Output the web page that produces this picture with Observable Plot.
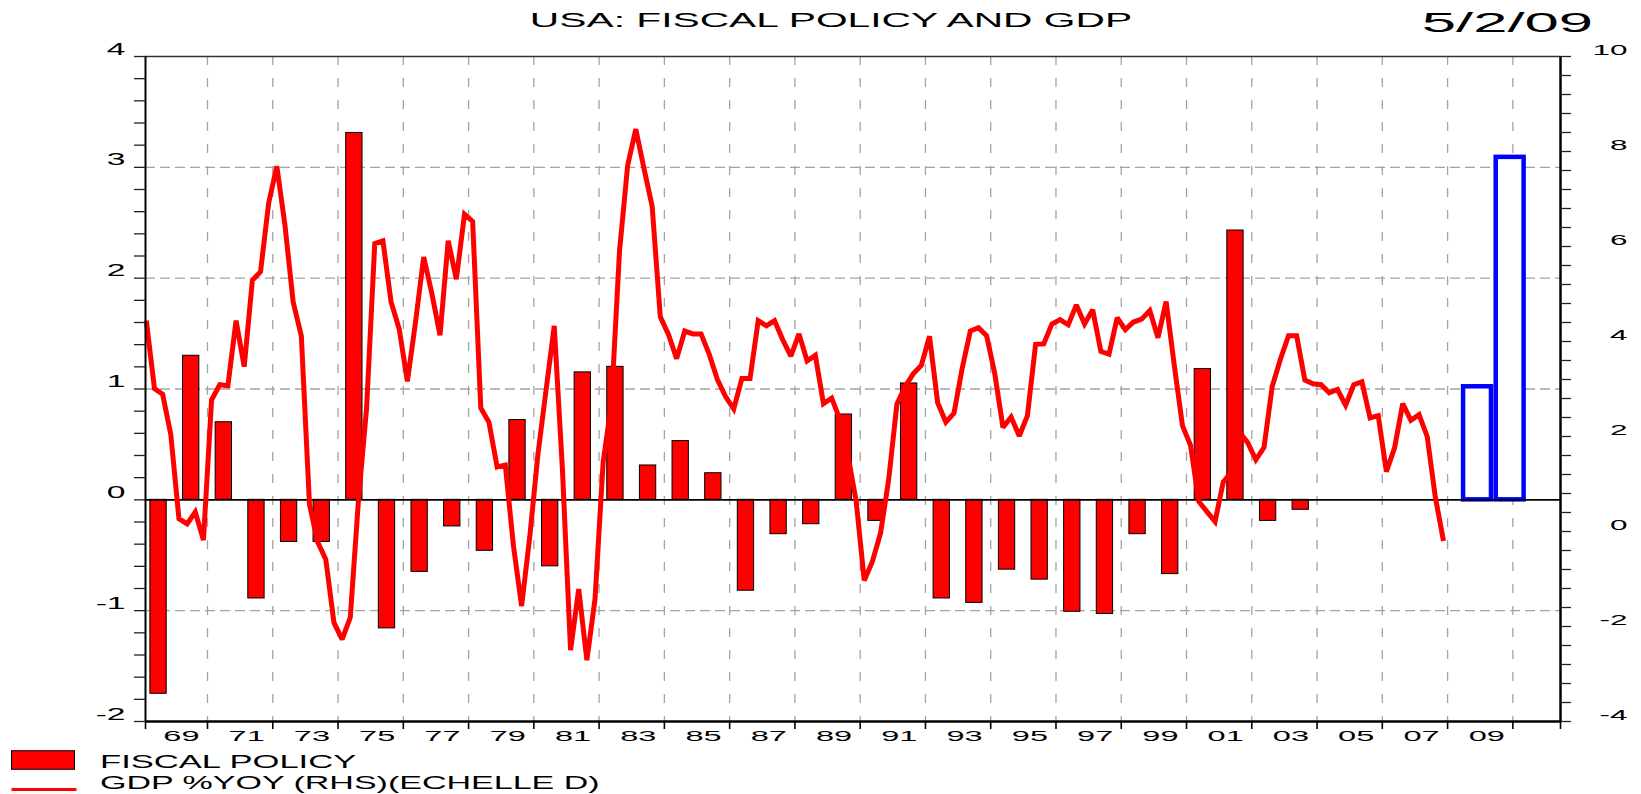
<!DOCTYPE html>
<html>
<head>
<meta charset="utf-8">
<script src="https://cdn.jsdelivr.net/npm/d3@7"></script>
<script src="https://cdn.jsdelivr.net/npm/@observablehq/plot@0.6"></script>
<style>
  html, body { margin: 0; padding: 0; background: #fff; overflow: hidden; }
  #chart svg { display: block; }
</style>
</head>
<body>
<div id="chart"></div>
<script>
// ---------------- texts ----------------
const chartTitle = "USA: FISCAL POLICY AND GDP";
const dateStamp = "5/2/09";
const legendBarsLabel = "FISCAL POLICY";
const legendLineLabel = "GDP %YOY (RHS)(ECHELLE D)";

// ---------------- fiscal policy (left axis, annual) ----------------
const fiscalYears = [1969, 1970, 1971, 1972, 1973, 1974, 1975, 1976, 1977, 1978,
                     1979, 1980, 1981, 1982, 1983, 1984, 1985, 1986, 1987, 1988,
                     1989, 1990, 1991, 1992, 1993, 1994, 1995, 1996, 1997, 1998,
                     1999, 2000, 2001, 2002, 2003, 2004];
const fiscalValues = [-1.75, 1.30, 0.70, -0.89, -0.38, -0.38, 3.31, -1.16, -0.65, -0.24,
                      -0.46, 0.72, -0.60, 1.15, 1.20, 0.31, 0.53, 0.24, -0.82, -0.31,
                      -0.22, 0.77, -0.19, 1.05, -0.89, -0.93, -0.63, -0.72, -1.01, -1.03,
                      -0.31, -0.67, 1.18, 2.43, -0.19, -0.09];

// ---------------- fiscal stimulus (left axis, hollow blue bars) ----------------
const stimulusYears = [2009, 2010];
const stimulusValues = [1.02, 3.09];

// ---------------- GDP % YoY (right axis, quarterly from 1969Q1) ----------------
const gdpFirstYear = 1969;
const gdpYoY = [
  4.44, 3.01, 2.89, 2.04,   // 1969
  0.27, 0.16, 0.41, -0.18,  // 1970
  2.77, 3.09, 3.07, 4.44,   // 1971
  3.47, 5.29, 5.47, 6.92,   // 1972
  7.69, 6.44, 4.83, 4.12,   // 1973
  0.57, -0.22, -0.59, -1.92,// 1974
  -2.27, -1.81, 0.65, 2.60, // 1975
  6.06, 6.12, 4.83, 4.26,   // 1976
  3.16, 4.41, 5.78, 5.01,   // 1977
  4.13, 6.12, 5.31, 6.68,   // 1978
  6.53, 2.60, 2.30, 1.36,   // 1979
  1.40, -0.30, -1.57, -0.11,// 1980
  1.62, 2.98, 4.33, 1.32,   // 1981
  -2.50, -1.21, -2.71, -1.42, // 1982
  1.47, 2.68, 5.90, 7.71,   // 1983
  8.47, 7.64, 6.85, 4.52,   // 1984
  4.15, 3.64, 4.22, 4.16,   // 1985
  4.16, 3.73, 3.20, 2.84,   // 1986
  2.58, 3.22, 3.22, 4.44,   // 1987
  4.33, 4.44, 4.04, 3.69,   // 1988
  4.16, 3.59, 3.71, 2.69,   // 1989
  2.81, 2.37, 1.60, 0.65,   // 1990
  -1.03, -0.63, -0.03, 1.10,// 1991
  2.68, 3.05, 3.32, 3.50,   // 1992
  4.11, 2.71, 2.30, 2.49,   // 1993
  3.43, 4.22, 4.29, 4.12,   // 1994
  3.32, 2.19, 2.41, 2.01,   // 1995
  2.44, 3.94, 3.95, 4.37,   // 1996
  4.46, 4.35, 4.77, 4.37,   // 1997
  4.67, 3.79, 3.73, 4.50,   // 1998
  4.25, 4.41, 4.47, 4.65,   // 1999
  4.08, 4.84, 3.50, 2.23,   // 2000
  1.81, 0.63, 0.42, 0.21,   // 2001
  1.04, 1.25, 2.09, 1.87,   // 2002
  1.51, 1.77, 3.05, 3.62,   // 2003
  4.12, 4.12, 3.19, 3.11,   // 2004
  3.09, 2.92, 2.99, 2.66,   // 2005
  3.09, 3.15, 2.39, 2.44,   // 2006
  1.26, 1.76, 2.69, 2.34,   // 2007
  2.46, 2.00, 0.72, -0.20   // 2008
];

// ---------------- axes ----------------
const leftTickLabels = [4, 3, 2, 1, 0, -1, -2];
const rightTickLabels = [10, 8, 6, 4, 2, 0, -2, -4];
const xLabelYears = [1969, 1971, 1973, 1975, 1977, 1979, 1981, 1983, 1985, 1987, 1989,
                     1991, 1993, 1995, 1997, 1999, 2001, 2003, 2005, 2007, 2009];
const gridYears = [1971, 1973, 1975, 1977, 1979, 1981, 1983, 1985, 1987, 1989, 1991,
                   1993, 1995, 1997, 1999, 2001, 2003, 2005, 2007, 2009, 2011];
const leftGrid = [3, 2, 1, -1];

const leftDomain = [-2, 4];
const rightDomain = [-4, 10];
const xDomain = [1969.1, 2012.46];

// right axis values expressed in left-axis units
const toLeft = v => leftDomain[0] + (v - rightDomain[0]) * (leftDomain[1] - leftDomain[0]) / (rightDomain[1] - rightDomain[0]);

const fiscal = fiscalYears.map((year, i) => ({year, value: fiscalValues[i]}));
const stimulus = stimulusYears.map((year, i) => ({year, value: stimulusValues[i]}));
const gdp = gdpYoY.map((v, k) => ({t: gdpFirstYear + Math.floor(k / 4) + ((k % 4) + 0.5) / 4, v}));

const leftMinor = d3.range(leftDomain[0], leftDomain[1] + 1e-9, 0.2);
const rightMinor = d3.range(rightDomain[0], rightDomain[1] + 1e-9, 0.4).map(toLeft);
const xTicks = [xDomain[0], ...gridYears, xDomain[1]];

const W = 1641;
const font = "'Liberation Sans', Arial, Helvetica, sans-serif";
const gridColor = "#a3a3a3";

const chart = Plot.plot({
  width: W,
  height: 710,
  marginLeft: 145,
  marginRight: 81,
  marginTop: 16,
  marginBottom: 29,
  x: {domain: xDomain, axis: null},
  y: {domain: leftDomain, axis: null},
  style: {fontFamily: font, background: "white", overflow: "visible", color: "black"},
  marks: [
    // grid
    Plot.ruleX(gridYears, {x: d => d, stroke: gridColor, strokeWidth: 1.3, strokeDasharray: "9,13"}),
    Plot.ruleY(leftGrid, {y: d => d, stroke: gridColor, strokeWidth: 1.3, strokeDasharray: "10,5"}),
    // fiscal policy bars
    Plot.rect(fiscal, {x1: d => d.year + 0.25, x2: d => d.year + 0.75, y1: () => 0, y2: d => d.value,
                       fill: "#ff0000", stroke: "#000", strokeWidth: 1}),
    // stimulus (hollow blue)
    Plot.rect(stimulus, {x1: d => d.year + 0.49, x2: d => d.year + 1.345, y1: () => 0, y2: d => d.value,
                         fill: "white", stroke: "#0000ff", strokeWidth: 4.5}),
    // zero line
    Plot.ruleY([0], {stroke: "#000", strokeWidth: 1.6}),
    // GDP line (right axis)
    Plot.line(gdp, {x: "t", y: d => toLeft(d.v), stroke: "#ff0000", strokeWidth: 5,
                    strokeLinejoin: "miter", strokeMiterlimit: 2.5, strokeLinecap: "butt"}),
    // frame
    Plot.ruleY([leftDomain[1]], {stroke: "#333", strokeWidth: 1.5}),
    Plot.ruleY([leftDomain[0]], {stroke: "#000", strokeWidth: 2.5}),
    Plot.ruleX([xDomain[0]], {stroke: "#000", strokeWidth: 2}),
    Plot.ruleX([xDomain[1]], {stroke: "#000", strokeWidth: 2.5}),
    // ticks
    Plot.ruleY(leftMinor, {y: d => d, x1: () => xDomain[0], x2: () => xDomain[0], insetLeft: -11, stroke: "#222", strokeWidth: 1.3}),
    Plot.ruleY(rightMinor, {y: d => d, x1: () => xDomain[1], x2: () => xDomain[1], insetRight: -11, stroke: "#222", strokeWidth: 1.3}),
    Plot.ruleX(xTicks, {x: d => d, y1: () => leftDomain[0], y2: () => leftDomain[0], insetBottom: -8, stroke: "#000", strokeWidth: 1.6}),
    // tick labels
    Plot.text(leftTickLabels, {y: d => d, text: d => String(d), frameAnchor: "left", dx: -20, dy: -7,
                               textAnchor: "end", fontSize: 16, fill: "black"}),
    Plot.text(rightTickLabels, {y: d => toLeft(d), text: d => String(d), frameAnchor: "right", dx: 67, dy: -6.5,
                                textAnchor: "end", fontSize: 15, fill: "black"}),
    Plot.text(xLabelYears, {x: d => d + 1.2, text: d => String(d % 100).padStart(2, "0"), frameAnchor: "bottom",
                            dy: 19.5, fontSize: 15.5, fill: "black"})
  ]
});

// stretch axis labels horizontally, as in the original
d3.select(chart).selectAll("text").each(function () {
  const t = this.getAttribute("transform") || "";
  this.setAttribute("transform", t + " scale(2.1,1)");
});

// header (title + date)
const header = d3.create("svg").attr("width", W).attr("height", 40).style("display", "block")
  .attr("font-family", font);
header.append("text").attr("transform", "translate(831,27.3) scale(2.09,1)")
  .attr("text-anchor", "middle").attr("font-size", 19.5).attr("fill", "#000").text(chartTitle);
header.append("text").attr("transform", "translate(1593,31.7) scale(2.2,1)")
  .attr("text-anchor", "end").attr("font-size", 28).attr("fill", "#000").text(dateStamp);

// legend
const legend = d3.create("svg").attr("width", W).attr("height", 44).style("display", "block")
  .attr("font-family", font);
legend.append("rect").attr("x", 11.5).attr("y", 0.7).attr("width", 63).attr("height", 18.6)
  .attr("fill", "#ff0000").attr("stroke", "#000").attr("stroke-width", 1);
legend.append("text").attr("transform", "translate(100,18.3) scale(1.87,1)")
  .attr("font-size", 18.5).attr("fill", "#000").text(legendBarsLabel);
legend.append("line").attr("x1", 11.5).attr("x2", 76.5).attr("y1", 39.5).attr("y2", 39.5)
  .attr("stroke", "#ff0000").attr("stroke-width", 3);
legend.append("text").attr("transform", "translate(100,38.8) scale(1.84,1)")
  .attr("font-size", 18.5).attr("fill", "#000").text(legendLineLabel);

const root = document.getElementById("chart");
root.appendChild(header.node());
root.appendChild(chart);
root.appendChild(legend.node());
</script>
</body>
</html>
